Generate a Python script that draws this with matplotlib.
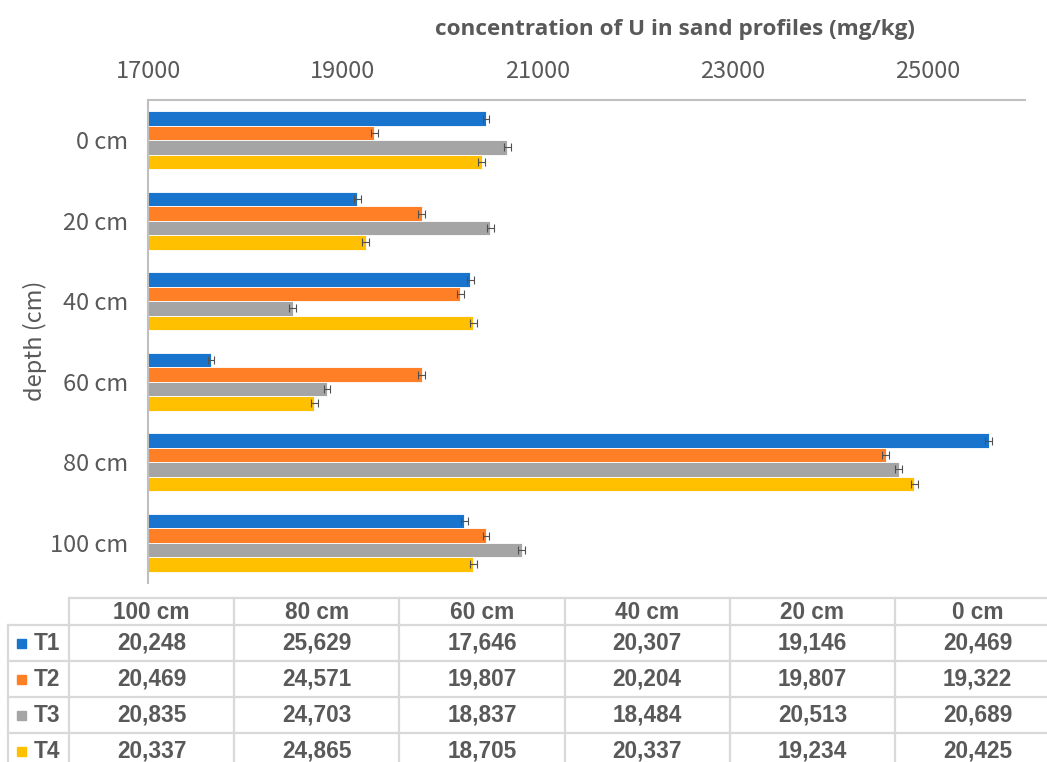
import numpy as np
import matplotlib
matplotlib.use('Agg')
import matplotlib.pyplot as plt

# data (table order: 100 cm ... 0 cm)
depths = ['100 cm', '80 cm', '60 cm', '40 cm', '20 cm', '0 cm']
series = ['T1', 'T2', 'T3', 'T4']
T1 = [20248, 25629, 17646, 20307, 19146, 20469]
T2 = [20469, 24571, 19807, 20204, 19807, 19322]
T3 = [20835, 24703, 18837, 18484, 20513, 20689]
T4 = [20337, 24865, 18705, 20337, 19234, 20425]
err = 35
colors = ['#1874CD', '#FF7F27', '#A5A5A5', '#FFC000']
values = [T1, T2, T3, T4]

txt = '#595959'
plt.rcParams['font.family'] = ['Noto Sans CJK SC', 'DejaVu Sans']

W, H = 1047, 762
fig = plt.figure(figsize=(W / 100, H / 100), dpi=100)
ax = fig.add_axes([148 / W, 1 - 583 / H, (1025 - 148) / W, (583 - 100) / H])

y = np.arange(len(depths))
h = 0.18
offs = [1.5, 0.5, -0.5, -1.5]
for vals, c, o in zip(values, colors, offs):
    ax.barh(y + o * h, vals, height=h, left=0, color=c, edgecolor='white',
            linewidth=0.6, xerr=err, error_kw=dict(ecolor='#505050', elinewidth=0.8,
                                                  capsize=3, capthick=0.8))

ax.set_xlim(17000, 26000)
ax.set_ylim(-0.5, len(depths) - 0.5)
ax.xaxis.tick_top()
ax.set_xticks(range(17000, 26000, 2000))
ax.set_yticks(y)
ax.set_yticklabels(depths)
ax.tick_params(axis='x', length=0, pad=12, labelsize=17, labelcolor=txt)
ax.tick_params(axis='y', length=0, pad=14, labelsize=17, labelcolor=txt)
for s in ['right', 'bottom']:
    ax.spines[s].set_visible(False)
for s in ['top', 'left']:
    ax.spines[s].set_color('#BFBFBF')
    ax.spines[s].set_linewidth(1.5)
for lab in ax.get_xticklabels() + ax.get_yticklabels():
    lab.set_fontweight('light')

fig.text(675 / W, 1 - 29 / H, 'concentration of U in sand profiles (mg/kg)',
         ha='center', va='center', fontsize=16.2, fontweight='bold', color=txt,
         family=['Open Sans', 'DejaVu Sans'])
fig.text(35 / W, 1 - 341 / H, 'depth (cm)', rotation=90, ha='center', va='center',
         fontsize=17, color=txt, fontweight='light')

# data table
tb = fig.add_axes([0, 0, 1, 1], zorder=-1)
tb.set_xlim(0, W)
tb.set_ylim(H, 0)
tb.axis('off')
lc = '#D9D9D9'
x0, xl, cw = 69, 8, 165.2
rows = [598, 625, 661, 697, 733, 769]
ncol = len(depths)
tb.plot([x0, x0 + cw * ncol], [rows[0]] * 2, color=lc, lw=1.6)
for r in rows[1:]:
    tb.plot([xl, x0 + cw * ncol], [r] * 2, color=lc, lw=1.6)
tb.plot([xl, xl], [rows[1], rows[-1]], color=lc, lw=1.6)
for i in range(ncol + 1):
    tb.plot([x0 + cw * i] * 2, [rows[0], rows[-1]], color=lc, lw=1.6)

tfont = dict(family=['Liberation Sans', 'DejaVu Sans'], fontsize=16.3, fontweight='bold',
             color=txt, ha='center', va='center')
for i, d in enumerate(depths):
    tb.text(x0 + cw * (i + 0.5), (rows[0] + rows[1]) / 2 + 1, d, **tfont)
for j, (name, vals, c) in enumerate(zip(series, values, colors)):
    yc = (rows[j + 1] + rows[j + 2]) / 2
    tb.add_patch(plt.Rectangle((17, yc - 4.5), 9, 9, color=c))
    tb.text(47, yc, name, **tfont)
    for i, v in enumerate(vals):
        tb.text(x0 + cw * (i + 0.5), yc, f'{v:,}', **tfont)

fig.savefig('out.png', dpi=100)
